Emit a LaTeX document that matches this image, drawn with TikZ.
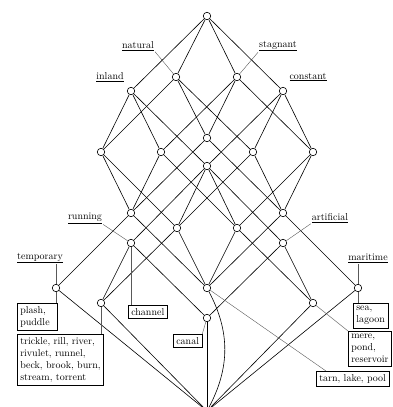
\documentclass[tikz,border=0pt]{standalone}
\usetikzlibrary{positioning}
\begin{document}
\begin{tikzpicture}[x=1pt,y=-1pt,
    concept/.style={circle,draw,fill=white,minimum size=7.5pt,inner sep=0pt,line width=0.6pt},
    edge/.style={line width=0.6pt},
    attr/.style={inner sep=1pt},
    obj/.style={draw,align=left,inner sep=3pt,anchor=north west,line width=0.5pt},
    lab/.style={gray!70!black,line width=0.4pt}]
  \useasboundingbox (0,0) rectangle (392,407);
  \foreach \n/\x/\y in {top/207/16, na/176/77, st/237/77, in/131/91, co/283/91,
      nast/207/138, nain/101/152, stin/161/152, naco/253/152, stco/313/152, inco/207/166,
      nastin/131/213, nastco/283/213, nainco/177/228, stinco/237/228,
      run/131/243, art/283/243, lake/207/288, temp/56/288, mar/358/288,
      brook/101/303, mere/313/303, canal/207/318, bot/207/411}
    \node[concept] (\n) at (\x,\y) {};
  \foreach \a/\b in {top/na, top/st, top/in, top/co,
      na/nast, na/nain, na/naco, st/nast, st/stin, st/stco,
      in/nain, in/stin, in/inco, co/naco, co/stco, co/inco,
      nast/nastin, nast/nastco, nain/nastin, nain/nainco,
      stin/nastin, stin/stinco, naco/nastco, naco/nainco,
      stco/nastco, stco/stinco,
      inco/nainco, inco/stinco, inco/run, inco/art,
      nastin/lake, nastin/temp, nastco/lake, nastco/mar,
      nainco/lake, nainco/brook, stinco/lake, stinco/mere,
      run/brook, run/canal, art/canal, art/mere,
      temp/bot, brook/bot, canal/bot, mere/bot, mar/bot}
    \draw[edge] (\a) -- (\b);
  \draw[edge] (lake) to[bend left=28] (bot);
  % attributes
  \node[attr] (natl) at (138,46) {\underline{natural}};
  \node[attr] (stl) at (278,46) {\underline{stagnant}};
  \node[attr] (inl) at (110,77) {\underline{inland}};
  \node[attr] (col) at (308,77) {\underline{constant}};
  \node[attr] (runl) at (85,218) {\underline{running}};
  \node[attr] (artl) at (330,218) {\underline{artificial}};
  \node[attr] (templ) at (40,258) {\underline{temporary}};
  \node[attr] (marl) at (368,258) {\underline{maritime}};
  \draw[lab] (natl.south east) -- (na);
  \draw[lab] (stl.south west) -- (st);
  \draw[lab] (runl.south east) -- (run);
  \draw[lab] (artl.south west) -- (art);
  \draw[lab] (temp) -- (temp |- templ.south);
  \draw[lab] (mar) -- (mar |- marl.south);
  % objects
  \node[obj,text width=34pt] (puddlebox) at (17,303) {plash,\\puddle};
  \node[obj] (brookbox) at (17,334) {trickle, rill, river,\\rivulet, runnel,\\beck, brook, burn,\\stream, torrent};
  \node[obj] (channelbox) at (128,305) {channel};
  \node[obj] (canalbox) at (173,334) {canal};
  \node[obj] (seabox) at (353,303) {sea,\\lagoon};
  \node[obj] (merebox) at (348,331) {mere,\\pond,\\reservoir};
  \node[obj] (tarnbox) at (316,371) {tarn, lake, pool};
  \draw[lab] (temp) -- (temp |- puddlebox.north);
  \draw[lab] (brook) -- (brook |- brookbox.north);
  \draw[lab] (run) -- (run |- channelbox.north);
  \draw[lab] (canal) -- (canalbox.north east);
  \draw[lab] (mar) -- (mar |- seabox.north);
  \draw[lab] (mere) -- (merebox.north west);
  \draw[lab] (lake) -- ([xshift=10pt]tarnbox.north west);
\end{tikzpicture}
\end{document}
